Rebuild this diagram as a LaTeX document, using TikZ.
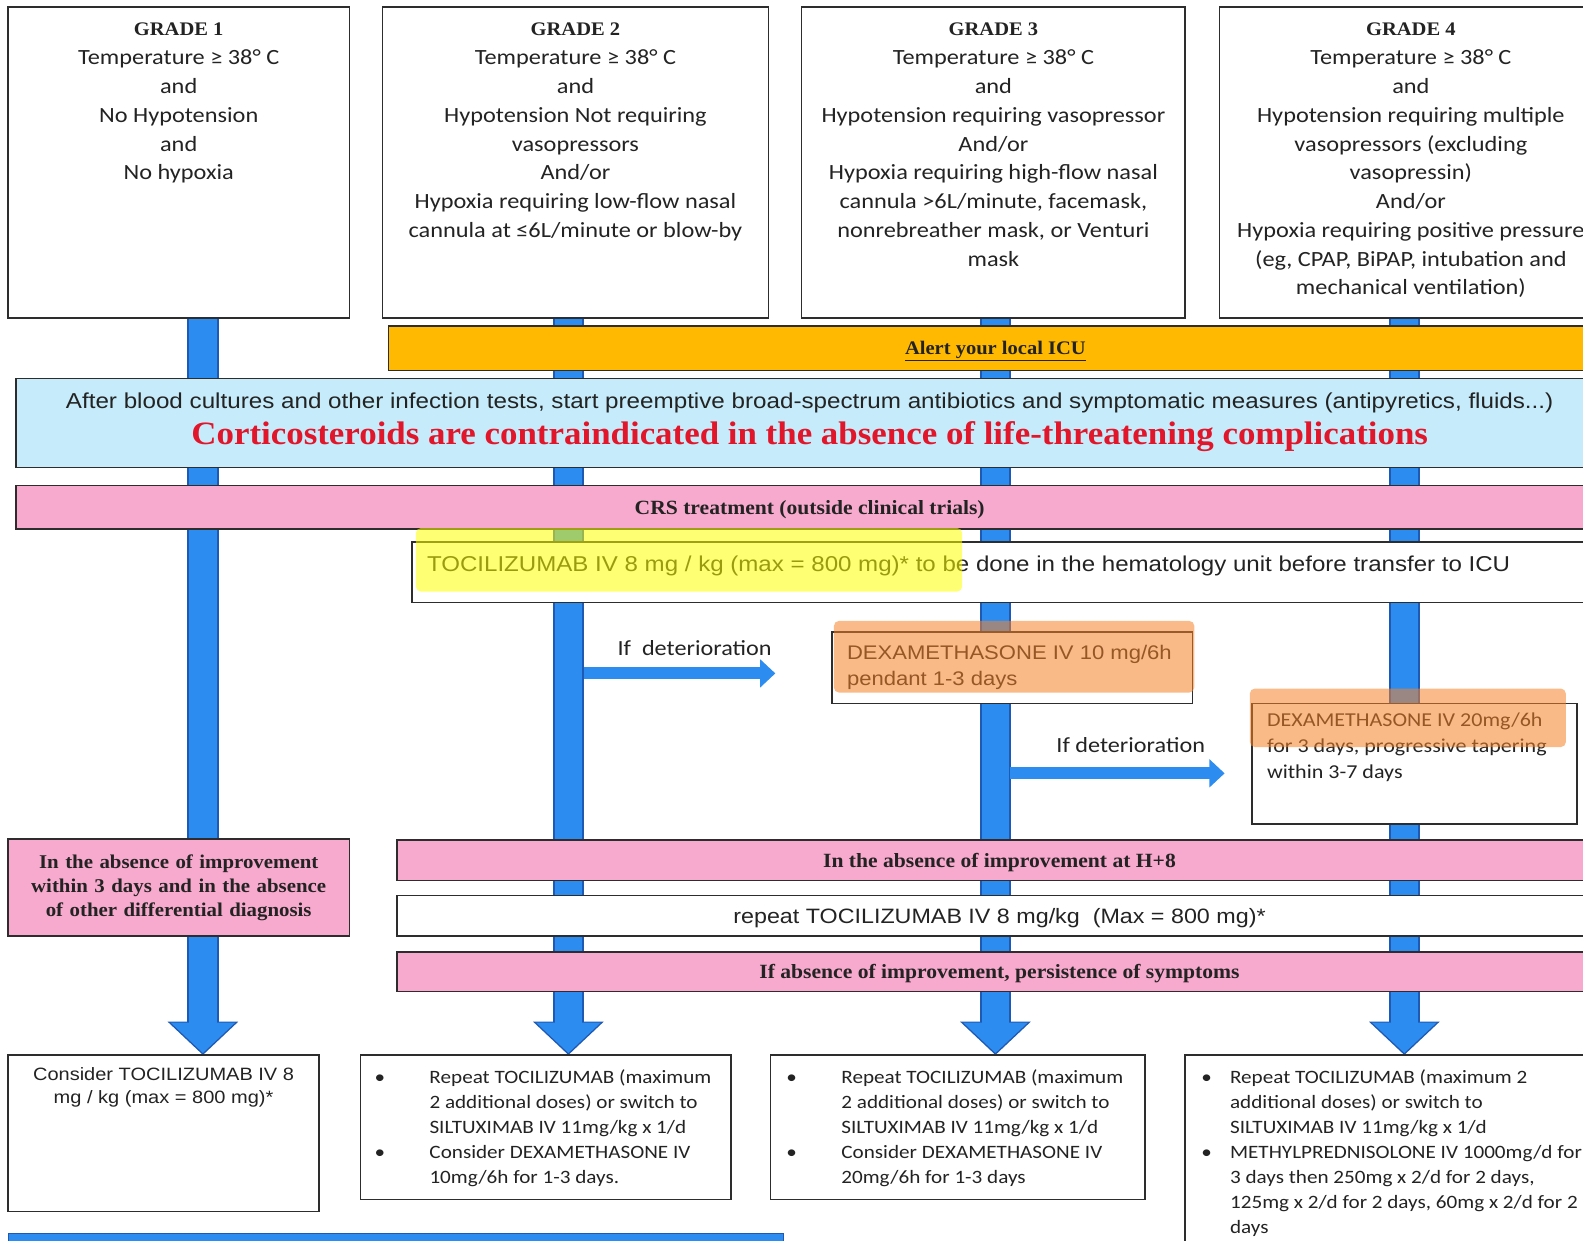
\documentclass[tikz,border=0pt]{standalone}
\usepackage{fontspec}
\setmainfont{Carlito}[FakeStretch=1.12]
\newfontfamily\arialf{Liberation Sans}[FakeStretch=1.12]
\newfontfamily\cambf{Liberation Serif}[FakeStretch=1.07]
\usetikzlibrary{arrows.meta,backgrounds}

\definecolor{barblue}{RGB}{45,140,240}
\definecolor{barline}{RGB}{30,90,180}
\definecolor{icuorange}{RGB}{255,185,0}
\definecolor{infoblue}{RGB}{198,235,250}
\definecolor{bandpink}{RGB}{247,170,205}
\definecolor{warnred}{RGB}{226,22,42}
\definecolor{boxline}{RGB}{45,45,45}
\definecolor{textgrey}{RGB}{35,35,35}
\definecolor{hlyellow}{RGB}{255,255,0}
\definecolor{hlorange}{RGB}{245,130,40}

\newcommand{\gradefont}{\fontsize{21.5}{28.5}\selectfont}
\newcommand{\gradetitle}{\cambf\bfseries\fontsize{19}{28.5}\selectfont}
\newcommand{\listfont}{\fontsize{18.7}{24.7}\selectfont}

\tikzset{
  box/.style={draw=boxline, line width=1.5pt, fill=white, inner sep=0pt, outer sep=0pt, anchor=north west, text=textgrey},
  band/.style={box, fill=bandpink, text depth=0pt, font=\cambf\bfseries\fontsize{20}{24}\selectfont},
  barout/.style={line width=31pt, draw=barline, -{Triangle[length=33pt,width=68pt]}},
  barin/.style={line width=27pt, draw=barblue, -{Triangle[length=30pt,width=62pt]}, shorten >=2pt},
  sidearrow/.style={line width=12pt, draw=barblue, -{Triangle[length=15pt,width=27pt]}},
  detlabel/.style={font=\fontsize{21.4}{25}\selectfont, text=textgrey},
  highlight/.style={rounded corners=5pt, opacity=0.55},
}

\begin{document}
\begin{tikzpicture}[x=1pt, y=-1pt]
\useasboundingbox (0,0) rectangle (1568,1229);
\clip (0,0) rectangle (1568,1229);

% grades
\node[box] (g1) at (8,7) {\parbox[c][308pt][t]{338pt}{\centering\gradefont\vspace*{16pt}%
{\gradetitle GRADE 1}\\ Temperature ≥ 38° C\\ and\\ No Hypotension\\ and\\ No hypoxia}};
\node[box] (g2) at (379,7) {\parbox[c][308pt][t]{382pt}{\centering\gradefont\vspace*{16pt}%
{\gradetitle GRADE 2}\\ Temperature ≥ 38° C\\ and\\ Hypotension Not requiring\\ vasopressors\\ And/or\\
Hypoxia requiring low-flow nasal\\ cannula at ≤6L/minute or blow-by}};
\node[box] (g3) at (794,7) {\parbox[c][308pt][t]{380pt}{\centering\gradefont\vspace*{16pt}%
{\gradetitle GRADE 3}\\ Temperature ≥ 38° C\\ and\\ Hypotension requiring vasopressor\\ And/or\\
Hypoxia requiring high-flow nasal\\ cannula >6L/minute, facemask,\\ nonrebreather mask, or Venturi\\ mask}};
\node[box] (g4) at (1208,7) {\parbox[c][308pt][t]{379pt}{\centering\gradefont\vspace*{16pt}%
{\gradetitle GRADE 4}\\ Temperature ≥ 38° C\\ and\\ Hypotension requiring multiple\\ vasopressors (excluding\\ vasopressin)\\ And/or\\
Hypoxia requiring positive pressure\\ (eg, CPAP, BiPAP, intubation and\\ mechanical ventilation)}};

% bands across the columns
\node[box, fill=icuorange, minimum width=1202pt, minimum height=44pt, text depth=0pt, font=\cambf\bfseries\fontsize{19}{22}\selectfont] (icu) at (385,323) {\underline{Alert your local ICU}};
\node[box, fill=infoblue] (info) at (16,375) {\parbox[c][88pt][t]{1572pt}{\centering\vspace*{14pt}%
{\arialf\fontsize{21.4}{26}\selectfont After blood cultures and other infection tests, start preemptive broad-spectrum antibiotics and symptomatic measures (antipyretics, fluids...)\par}%
{\cambf\bfseries\color{warnred}\fontsize{32.3}{36}\selectfont Corticosteroids are contraindicated in the absence of life-threatening complications\par}}};
\node[band, minimum width=1572pt, minimum height=43pt] (crs) at (16,481) {CRS treatment (outside clinical trials)};
\node[box] (toci) at (408,537) {\parbox[c][60pt][t]{1180pt}{\vspace*{14pt}\hspace*{15pt}\arialf\fontsize{21.3}{26}\selectfont
TOCILIZUMAB IV 8 mg / kg (max = 800 mg)* to be done in the hematology unit before transfer to ICU}};

% steroids on deterioration
\node[box] (dex1) at (824,626) {\parbox[c][71pt][t]{357pt}{\vspace*{13pt}\leftskip=15pt\arialf\fontsize{19.5}{26}\selectfont
DEXAMETHASONE IV 10 mg/6h\\ pendant 1-3 days}};
\node[box] (dex2) at (1240,697) {\parbox[c][119pt][t]{322pt}{\vspace*{9pt}\leftskip=15pt\fontsize{19.5}{26}\selectfont
DEXAMETHASONE IV 20mg/6h\\ for 3 days, progressive tapering\\ within 3-7 days}};
\coordinate (a1s) at (578,667);
\coordinate (a1e) at (768,667);
\coordinate (a2s) at (1000,766);
\coordinate (a2e) at (1213,766);
\draw[sidearrow] (a1s) -- (a1e);
\draw[sidearrow] (a2s) -- (a2e);
\node[detlabel] (det1) at (688,642) {If~ deterioration};
\node[detlabel] (det2) at (1120,738) {If deterioration};

% no improvement
\node[box, fill=bandpink, text width=338pt, minimum height=96pt, align=center, font=\cambf\bfseries\fontsize{19.3}{23.7}\selectfont] (noimp) at (8,831)
  {In the absence of improvement\\ within 3 days and in the absence\\ of other differential diagnosis};
\node[band, minimum width=1194pt, minimum height=40pt] (h8) at (393,832) {In the absence of improvement at H+8};
\node[box, minimum width=1194pt, minimum height=40pt, text depth=0pt, font=\arialf\fontsize{20.6}{25}\selectfont] (rep) at (393,887) {repeat TOCILIZUMAB IV 8 mg/kg~ (Max = 800 mg)*};
\node[band, minimum width=1194pt, minimum height=39pt] (pers) at (393,943) {If absence of improvement, persistence of symptoms};

% final treatments
\node[box] (b1) at (8,1045) {\parbox[c][155pt][t]{308pt}{\centering\vspace*{12pt}\arialf\fontsize{17.7}{23}\selectfont
Consider TOCILIZUMAB IV 8\\ mg / kg (max = 800 mg)*}};
\node[box] (b2) at (357,1045) {\parbox[c][143pt][t]{367pt}{\vspace*{11pt}\listfont
\begin{tabular}[t]{@{\hspace{14pt}}l@{\hspace{44pt}}l@{}}
\textbullet & Repeat TOCILIZUMAB (maximum\\
 & 2 additional doses) or switch to\\
 & SILTUXIMAB IV 11mg/kg x 1/d\\
\textbullet & Consider DEXAMETHASONE IV\\
 & 10mg/6h for 1-3 days.
\end{tabular}}};
\node[box] (b3) at (763,1045) {\parbox[c][143pt][t]{371pt}{\vspace*{11pt}\listfont
\begin{tabular}[t]{@{\hspace{16pt}}l@{\hspace{44pt}}l@{}}
\textbullet & Repeat TOCILIZUMAB (maximum\\
 & 2 additional doses) or switch to\\
 & SILTUXIMAB IV 11mg/kg x 1/d\\
\textbullet & Consider DEXAMETHASONE IV\\
 & 20mg/6h for 1-3 days
\end{tabular}}};
\node[box] (b4) at (1174,1045) {\parbox[c][215pt][t]{413pt}{\vspace*{11pt}\listfont
\begin{tabular}[t]{@{\hspace{16pt}}l@{\hspace{18pt}}l@{}}
\textbullet & Repeat TOCILIZUMAB (maximum 2\\
 & additional doses) or switch to\\
 & SILTUXIMAB IV 11mg/kg x 1/d\\
\textbullet & METHYLPREDNISOLONE IV 1000mg/d for\\
 & 3 days then 250mg x 2/d for 2 days,\\
 & 125mg x 2/d for 2 days, 60mg x 2/d for 2\\
 & days
\end{tabular}}};
\draw[draw=barline, line width=1pt, fill=barblue] (8,1222) rectangle (776,1240);

% blue arrows behind the boxes
\coordinate (x1) at (201,0);
\coordinate (x2) at (563,0);
\coordinate (x3) at (986,0);
\coordinate (x4) at (1391,0);
\begin{scope}[on background layer]
\foreach \g in {1,...,4} {
  \draw[barout] (x\g |- g\g.south) -- (x\g |- b\g.north);
  \draw[barin] (x\g |- g\g.south) -- (x\g |- b\g.north);
}
\end{scope}

% marker highlights
\fill[hlyellow, highlight] (412,523) rectangle (953,586);
\fill[hlorange, highlight] (826,615) rectangle (1183,686);
\fill[hlorange, highlight] (1238,682) rectangle (1551,740);
\end{tikzpicture}
\end{document}
